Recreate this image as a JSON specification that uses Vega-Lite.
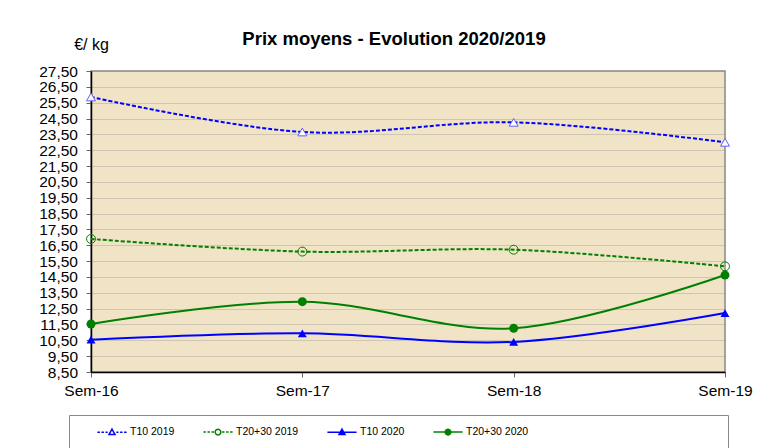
{
  "$schema": "https://vega.github.io/schema/vega-lite/v6.json",
  "autosize": {"type": "none"},
  "padding": {"left": 91, "top": 71, "right": 44, "bottom": 77},
  "width": 634,
  "height": 301,
  "background": "white",
  "title": {
    "text": "Prix moyens - Evolution 2020/2019",
    "font": "Liberation Sans",
    "fontSize": 18.5,
    "fontWeight": "bold",
    "color": "black",
    "frame": "group",
    "anchor": "middle",
    "dx": -14,
    "offset": -12
  },
  "config": {
    "view": {"fill": "#F1E4C6", "stroke": "#888888", "strokeWidth": 1.5}
  },
  "data": {
    "values": [
      {"sem": "Sem-16", "series": "T10 2019", "value": 25.86},
      {"sem": "Sem-17", "series": "T10 2019", "value": 23.65},
      {"sem": "Sem-18", "series": "T10 2019", "value": 24.26},
      {"sem": "Sem-19", "series": "T10 2019", "value": 23.0},
      {"sem": "Sem-16", "series": "T20+30 2019", "value": 16.9},
      {"sem": "Sem-17", "series": "T20+30 2019", "value": 16.1},
      {"sem": "Sem-18", "series": "T20+30 2019", "value": 16.22},
      {"sem": "Sem-19", "series": "T20+30 2019", "value": 15.17},
      {"sem": "Sem-16", "series": "T10 2020", "value": 10.54},
      {"sem": "Sem-17", "series": "T10 2020", "value": 10.94},
      {"sem": "Sem-18", "series": "T10 2020", "value": 10.4},
      {"sem": "Sem-19", "series": "T10 2020", "value": 12.22},
      {"sem": "Sem-16", "series": "T20+30 2020", "value": 11.53},
      {"sem": "Sem-17", "series": "T20+30 2020", "value": 12.94},
      {"sem": "Sem-18", "series": "T20+30 2020", "value": 11.26},
      {"sem": "Sem-19", "series": "T20+30 2020", "value": 14.62}
    ]
  },
  "encoding": {
    "x": {
      "field": "sem",
      "type": "ordinal",
      "scale": {"type": "point", "padding": 0},
      "axis": {
        "title": null,
        "labelAngle": 0,
        "labelFont": "Liberation Sans",
        "labelFontSize": 15.5,
        "labelColor": "black",
        "labelPadding": 6,
        "tickSize": 5,
        "tickColor": "#666666",
        "domainColor": "black",
        "domainWidth": 1.5
      }
    },
    "y": {
      "field": "value",
      "type": "quantitative",
      "scale": {"domain": [8.5, 27.5], "nice": false, "zero": false},
      "axis": {
        "values": [8.5, 9.5, 10.5, 11.5, 12.5, 13.5, 14.5, 15.5, 16.5, 17.5, 18.5, 19.5, 20.5, 21.5, 22.5, 23.5, 24.5, 25.5, 26.5, 27.5],
        "labelExpr": "replace(format(datum.value, '.2f'), '.', ',')",
        "labelOverlap": false,
        "labelFont": "Liberation Sans",
        "labelFontSize": 15.5,
        "labelColor": "black",
        "labelPadding": 8.5,
        "tickSize": 5,
        "tickColor": "#666666",
        "domainColor": "black",
        "domainWidth": 1.5,
        "grid": true,
        "gridColor": "#999999",
        "gridOpacity": 0.4,
        "title": "€/ kg",
        "titleAngle": 0,
        "titleX": 0,
        "titleY": -22,
        "titleAlign": "center",
        "titleBaseline": "alphabetic",
        "titleFont": "Liberation Sans",
        "titleFontSize": 16,
        "titleFontWeight": "normal",
        "titleColor": "black"
      }
    },
    "color": {
      "field": "series",
      "type": "nominal",
      "scale": {
        "domain": ["T10 2019", "T20+30 2019", "T10 2020", "T20+30 2020"],
        "range": ["#0000FF", "#008000", "#0000FF", "#008000"]
      },
      "legend": {
        "orient": "none",
        "legendX": -22,
        "legendY": 344,
        "direction": "horizontal",
        "title": null,
        "strokeColor": "#888888",
        "fillColor": "white",
        "padding": 10,
        "symbolSize": 154,
        "symbolStrokeWidth": 1.5,
        "symbolDash": [1, 0],
        "symbolOffset": 26,
        "labelOffset": 11,
        "columnPadding": 10,
        "labelFont": "Liberation Sans",
        "labelFontSize": 10.5,
        "labelColor": "black",
        "labelLimit": 300,
        "encode": {
          "symbols": {
            "update": {
              "shape": {"signal": "datum.value == 'T10 2019' ? 'M-2.35,0L-1.95,0M-1.7,0L-1.3,0M-1.05,0L-0.7,0M0.7,0L1.05,0M1.3,0L1.7,0M1.95,0L2.35,0M0,-0.5L0.48,0.35L-0.48,0.35Z' : datum.value == 'T20+30 2019' ? 'M-2.35,0L-1.95,0M-1.7,0L-1.3,0M-1.05,0L-0.65,0M0.65,0L1.05,0M1.3,0L1.7,0M1.95,0L2.35,0M0.45,0A0.45,0.45,0,1,1,-0.45,0A0.45,0.45,0,1,1,0.45,0Z' : datum.value == 'T10 2020' ? 'M-2.35,0L2.35,0M0,-0.5L0.48,0.35L-0.48,0.35Z' : 'M43,0M-2.35,0L2.35,0M0.45,0A0.45,0.45,0,1,1,-0.45,0A0.45,0.45,0,1,1,0.45,0Z'"},
              "fill": {"signal": "datum.value == 'T10 2020' ? '#0000FF' : datum.value == 'T20+30 2020' ? '#008000' : datum.value == 'T10 2019' ? 'white' : 'transparent'"},
              "strokeDash": {"value": [1, 0]},
              "opacity": {"value": 1}
            }
          }
        }
      }
    }
  },
  "layer": [
    {
      "transform": [{"filter": {"field": "series", "oneOf": ["T10 2019", "T20+30 2019"]}}],
      "mark": {"type": "line", "interpolate": "catmull-rom", "strokeWidth": 2, "strokeDash": [4, 2]}
    },
    {
      "transform": [{"filter": {"field": "series", "oneOf": ["T10 2020", "T20+30 2020"]}}],
      "mark": {"type": "line", "interpolate": "catmull-rom", "strokeWidth": 2}
    },
    {
      "transform": [{"filter": {"field": "series", "equal": "T10 2019"}}],
      "mark": {"type": "point", "shape": "triangle-up", "size": 80, "filled": true, "fill": "white", "stroke": "#6060FF", "strokeWidth": 1, "opacity": 1},
      "encoding": {"color": {"value": "#6060FF"}}
    },
    {
      "transform": [{"filter": {"field": "series", "equal": "T20+30 2019"}}],
      "mark": {"type": "point", "shape": "circle", "size": 80, "fill": "transparent", "stroke": "#008000", "strokeWidth": 1, "opacity": 1},
      "encoding": {"color": {"value": "#008000"}}
    },
    {
      "transform": [{"filter": {"field": "series", "equal": "T10 2020"}}],
      "mark": {"type": "point", "shape": "triangle-up", "size": 80, "filled": true, "opacity": 1},
      "encoding": {"color": {"value": "#0000FF"}}
    },
    {
      "transform": [{"filter": {"field": "series", "equal": "T20+30 2020"}}],
      "mark": {"type": "point", "shape": "circle", "size": 80, "filled": true, "opacity": 1},
      "encoding": {"color": {"value": "#008000"}}
    }
  ]
}
